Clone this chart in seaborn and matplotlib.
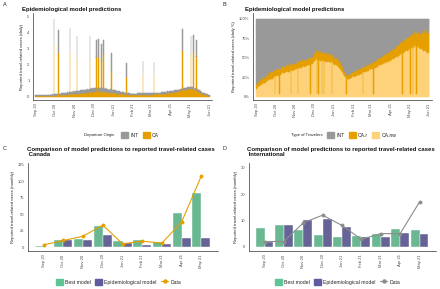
import numpy as np
import pandas as pd
import matplotlib
matplotlib.use("Agg")
import matplotlib.pyplot as plt
import matplotlib.dates as mdates
from matplotlib.patches import Patch
from matplotlib.lines import Line2D
import seaborn as sns

# ---- daily data, panel A (reported travel-related cases, daily) ----
days = pd.date_range("2020-09-01", "2021-05-31", freq="D")

ca_daily = (
    [0.03,0.03,0.04,0.03,0.04,0.04,0.03,0.04,0.05,0.04,0.04,0.05,0.04,0.05,0.05,0.04,0.05,0.06,0.05,0.05,
     0.06,0.05,0.06,0.06,0.07,0.06,0.07,0.07,0.06,0.07]  # Sep
    + [0.07,0.08,0.07,0.08,0.08,0.09,0.08,0.09,0.10,0.09,0.10,0.11,0.10,0.11,0.12,0.11,0.12,0.13,0.12,0.13,
       0.14,0.13,0.14,0.15,0.14,0.15,0.16,0.15,0.16,0.17,0.16]  # Oct
    + [0.17,0.18,0.17,0.19,0.18,0.19,0.20,0.19,0.21,0.20,0.21,0.22,0.21,0.23,0.22,0.23,0.24,0.23,0.25,0.24,
       0.25,0.26,0.25,0.27,0.26,0.27,0.28,0.27,0.29,0.28]  # Nov
    + [0.29,0.30,0.29,0.31,0.30,0.31,0.30,0.32,0.31,0.30,0.31,0.30,0.31,0.29,0.30,0.29,0.30,0.28,0.29,0.28,
       0.27,0.28,0.27,0.26,0.27,0.25,0.26,0.25,0.24,0.25,0.23]  # Dec
    + [0.23,0.22,0.23,0.21,0.22,0.20,0.21,0.19,0.20,0.18,0.19,0.17,0.18,0.16,0.17,0.15,0.16,0.14,0.15,0.13,
       0.14,0.12,0.13,0.12,0.11,0.12,0.11,0.10,0.11,0.10,0.10]  # Jan
    + [0.10,0.11,0.10,0.11,0.10,0.11,0.11,0.10,0.11,0.12,0.11,0.12,0.11,0.12,0.12,0.11,0.12,0.13,0.12,0.13,
       0.12,0.13,0.13,0.12,0.13,0.14,0.13,0.14]  # Feb
    + [0.14,0.13,0.14,0.15,0.14,0.15,0.14,0.15,0.16,0.15,0.16,0.15,0.16,0.17,0.16,0.17,0.18,0.17,0.18,0.19,
       0.18,0.20,0.19,0.21,0.20,0.22,0.21,0.23,0.22,0.24,0.23]  # Mar
    + [0.25,0.24,0.26,0.27,0.26,0.28,0.29,0.28,0.30,0.31,0.32,0.31,0.33,0.34,0.35,0.34,0.36,0.37,0.38,0.39,
       0.40,0.41,0.42,0.43,0.44,0.45,0.46,0.47,0.48,0.49]  # Apr
    + [0.49,0.48,0.48,0.47,0.46,0.45,0.44,0.42,0.41,0.39,0.37,0.35,0.33,0.31,0.29,0.27,0.25,0.23,0.21,0.19,
       0.17,0.16,0.14,0.13,0.12,0.11,0.10,0.09,0.08,0.07,0.06]  # May
)

int_daily = (
    [0.05,0.06,0.05,0.06,0.07,0.05,0.06,0.07,0.06,0.05,0.06,0.07,0.06,0.07,0.05,0.06,0.07,0.06,0.07,0.06,
     0.07,0.08,0.06,0.07,0.08,0.07,0.06,0.08,0.07,0.08]
    + [0.08,0.07,0.09,0.08,0.09,0.10,0.08,0.09,0.10,0.11,0.09,0.10,0.11,0.12,0.10,0.11,0.12,0.13,0.11,0.12,
       0.13,0.14,0.12,0.13,0.14,0.15,0.13,0.14,0.15,0.16,0.14]
    + [0.15,0.16,0.14,0.17,0.15,0.16,0.18,0.15,0.17,0.19,0.16,0.18,0.20,0.17,0.19,0.21,0.18,0.20,0.22,0.19,
       0.21,0.23,0.20,0.22,0.24,0.21,0.23,0.25,0.22,0.24]
    + [0.23,0.26,0.22,0.25,0.27,0.23,0.26,0.24,0.27,0.22,0.25,0.23,0.26,0.22,0.24,0.21,0.25,0.22,0.23,0.20,
       0.24,0.21,0.22,0.19,0.23,0.20,0.21,0.18,0.22,0.19,0.20]
    + [0.18,0.21,0.17,0.19,0.16,0.18,0.15,0.17,0.14,0.16,0.13,0.15,0.12,0.14,0.11,0.13,0.12,0.10,0.12,0.11,
       0.10,0.12,0.09,0.11,0.10,0.09,0.11,0.10,0.09,0.11,0.10]
    + [0.09,0.11,0.10,0.08,0.10,0.09,0.11,0.08,0.10,0.09,0.11,0.10,0.08,0.10,0.09,0.11,0.10,0.08,0.10,0.09,
       0.11,0.09,0.08,0.10,0.09,0.11,0.10,0.08]
    + [0.10,0.09,0.11,0.08,0.10,0.09,0.11,0.10,0.08,0.10,0.09,0.11,0.10,0.08,0.10,0.09,0.11,0.09,0.10,0.08,
       0.10,0.09,0.11,0.10,0.09,0.11,0.10,0.09,0.11,0.10,0.12]
    + [0.10,0.12,0.09,0.11,0.10,0.12,0.09,0.11,0.10,0.12,0.11,0.09,0.12,0.10,0.11,0.13,0.10,0.12,0.11,0.13,
       0.10,0.12,0.11,0.13,0.12,0.10,0.12,0.11,0.13,0.11]
    + [0.12,0.10,0.12,0.11,0.10,0.12,0.11,0.09,0.11,0.10,0.09,0.11,0.10,0.08,0.10,0.09,0.08,0.10,0.09,0.07,
       0.09,0.08,0.07,0.08,0.07,0.06,0.07,0.06,0.05,0.06,0.05]
)

# days with large clusters of reported cases
spike_dates = ["2020-09-30", "2020-10-07", "2020-10-25", "2020-11-05", "2020-11-25", "2020-12-05",
               "2020-12-08", "2020-12-13", "2020-12-16", "2020-12-29", "2021-01-21", "2021-02-16",
               "2021-03-05", "2021-04-19", "2021-05-02", "2021-05-06", "2021-05-11"]
spike_ca = [3.2, 2.7, 2.75, 2.35, 2.3, 2.5, 2.4, 2.25, 2.65, 1.6, 1.25, 1.35, 1.3, 2.85, 2.6, 2.75, 2.5]
spike_int = [1.65, 1.45, 1.55, 1.4, 1.45, 1.05, 1.2, 1.0, 0.9, 1.1, 0.85, 0.9, 0.85, 1.35, 1.15, 1.1, 1.05]

# ---- daily shares, panel B (%) ----
ca_nw_pct = (
    [10,12,11,13,14,13,15,16,15,17,16,18,17,19,18,20,19,21,20,22,21,22,23,22,24,23,25,24,26,25]
    + [26,27,26,28,27,28,29,28,29,30,29,31,30,31,30,32,31,32,31,33,32,33,32,34,33,34,33,35,34,35,34]
    + [35,36,35,37,36,37,36,38,37,38,37,39,38,39,38,40,39,40,39,41,40,41,40,42,41,42,43,42,44,45]
    + [46,48,47,49,48,47,49,48,47,48,46,47,48,46,47,45,46,47,45,46,44,45,46,44,45,43,44,45,43,44,42]
    + [42,41,42,40,41,39,40,38,39,37,36,35,33,32,30,29,28,26,25,24,23,22,23,22,24,23,24,25,24,26,25]
    + [26,25,27,26,28,27,28,27,29,28,30,29,30,29,31,30,32,31,32,31,33,32,33,34,33,35,34,35]
    + [35,36,35,37,36,37,38,37,38,39,38,40,39,40,41,40,42,41,42,43,42,44,43,44,45,44,46,45,46,47,46]
    + [47,48,47,49,48,50,49,51,50,52,51,53,52,54,53,55,54,56,55,57,56,58,57,59,58,60,59,61,60,62]
    + [61,63,62,64,63,65,64,66,63,65,64,66,65,63,64,62,63,61,62,60,61,60,59,60,58,59,57,58,56,57,55]
)
ca_r_pct = (
    [6,7,6,7,7,6,8,7,6,8,7,8,7,8,8,7,9,8,8,9,8,9,8,9,9,8,9,9,8,9]
    + [8,9,8,9,8,9,9,8,9,8,9,8,9,9,8,9,8,9,9,8,9,9,8,9,8,9,9,8,9,9,8]
    + [8,9,8,9,8,9,8,9,9,8,9,9,8,9,9,8,9,9,8,9,9,8,9,8,9,9,8,9,9,10]
    + [10,11,10,12,11,10,12,11,10,11,12,10,11,10,11,12,10,11,10,11,10,11,10,11,10,11,10,11,10,11,10]
    + [10,9,10,9,10,9,10,9,9,8,9,8,8,7,8,7,7,6,6,6,5,6,5,6,5,6,5,6,6,5,6]
    + [6,7,6,7,6,7,7,6,7,7,6,7,7,8,7,7,8,7,8,7,8,8,7,8,8,7,8,8]
    + [8,9,8,9,8,9,9,8,9,9,10,9,10,9,10,10,9,10,10,11,10,11,10,11,11,10,11,11,12,11,12]
    + [12,11,12,13,12,13,12,13,14,13,14,13,14,15,14,15,14,15,16,15,14,15,16,15,16,15,16,15,16,17]
    + [16,15,17,16,18,17,16,18,17,19,18,17,19,18,20,19,21,20,22,21,23,22,24,25,23,26,28,24,27,25,28]
)
dip_nw_pct = 3  # CA.nw share on the cluster days

# ---- monthly comparison, panels C and D ----
months = ["Sep 20", "Oct 20", "Nov 20", "Dec 20", "Jan 21", "Feb 21", "Mar 21", "Apr 21", "May 21"]
ca_best = [1, 11, 12, 31.5, 8.5, 10, 7.5, 51.5, 83]
ca_epi = [0.5, 11, 11.5, 18, 6, 3, 5, 14.5, 14.5]
ca_data = [3.5, 10, 16.5, 33.5, 5, 9, 6, 38, 108]
int_best = [7.2, 8.1, 6.3, 4.6, 3.8, 4.0, 4.7, 6.6, 6.3]
int_epi = [1.9, 8.1, 10.1, 10.6, 7.6, 3.9, 3.8, 5.3, 4.9]
int_data = [2, 2, 9.1, 12, 8.1, 2.8, 5, 5, 17]

C_INT = "#999999"
C_CA = "#E69F00"
C_NW = "#FDD27A"
C_BEST = "#5CC593"
C_EPI = "#5F5B9E"
TXT = "#4d4d4d"

sns.set_theme(style="white")
plt.rcParams["font.family"] = ["Liberation Sans", "DejaVu Sans"]

# build frames
dfA = pd.DataFrame({"date": days, "CA": ca_daily, "INT": int_daily})
dfB = pd.DataFrame({"date": days, "CA.nw": ca_nw_pct, "CA.r": ca_r_pct})
for d, c, i in zip(spike_dates, spike_ca, spike_int):
    m = dfA["date"] == pd.Timestamp(d)
    dfA.loc[m, "CA"] = c
    dfA.loc[m, "INT"] = i
    mb = dfB["date"] == pd.Timestamp(d)
    tot = dfB.loc[mb, "CA.nw"] + dfB.loc[mb, "CA.r"]
    dfB.loc[mb, "CA.nw"] = dip_nw_pct
    dfB.loc[mb, "CA.r"] = tot - dip_nw_pct
dfB["INT"] = 100 - dfB["CA.nw"] - dfB["CA.r"]

W, H = 440, 289
fig = plt.figure(figsize=(W / 100, H / 100), dpi=100)


def box(l, t, r, b):
    return [l / W, 1 - b / H, (r - l) / W, (b - t) / H]


axA = fig.add_axes(box(33, 13, 212, 100))
axB = fig.add_axes(box(253, 13, 432, 100))
axC = fig.add_axes(box(28, 163, 218, 251))
axD = fig.add_axes(box(249, 163, 436, 251))

TICK = 3.0
LAB = 3.0
TITLE = 4.3
LEGTXT = 3.7


def style(ax):
    for s in ["top", "right"]:
        ax.spines[s].set_visible(False)
    for s in ["left", "bottom"]:
        ax.spines[s].set_color("#333333")
        ax.spines[s].set_linewidth(0.5)
    ax.tick_params(axis="both", labelsize=TICK, colors=TXT, length=1.5, width=0.4, pad=1)
    ax.tick_params(axis="x", labelrotation=90)
    ax.set_xlabel("")


def stack(ax, x, layers):
    bottom = np.zeros(len(x))
    for vals, col in layers:
        vals = np.asarray(vals, dtype=float)
        ax.bar(x, vals, bottom=bottom, width=1.0, color=col, edgecolor=col, linewidth=0.35)
        bottom = bottom + vals


def hlegend(handles, x, y, title=None, title_w=0):
    if title:
        fig.text(x / W, 1 - y / H, title, fontsize=3.0, color="#222222", va="center")
    fig.legend(handles=handles, loc="center left", bbox_to_anchor=((x + title_w) / W, 1 - y / H),
               bbox_transform=fig.transFigure, ncol=len(handles), frameon=False, fontsize=LEGTXT,
               handlelength=1.4, handleheight=1.4, columnspacing=0.8, handletextpad=0.4,
               borderpad=0, borderaxespad=0)


# ---- Panel A ----
stack(axA, dfA["date"], [(dfA["CA"], C_CA), (dfA["INT"], C_INT)])
axA.set_ylim(-0.2, 5.2)
axA.set_yticks([0, 1, 2, 3, 4, 5])
axA.set_xlim(pd.Timestamp("2020-08-28"), pd.Timestamp("2021-06-04"))
month_ticks = pd.date_range("2020-09-01", "2021-06-01", freq="MS")
for ax in (axA, axB):
    ax.set_xticks(month_ticks)
    ax.xaxis.set_major_formatter(mdates.DateFormatter("%b %y"))
style(axA)
axA.set_ylabel("Reported travel-related cases (daily)", fontsize=LAB, color="#222222", labelpad=2)
hlegend([Patch(color=C_INT, label="INT"), Patch(color=C_CA, label="CA")], 84, 135,
        "Departure Origin", 37)

# ---- Panel B ----
stack(axB, dfB["date"], [(dfB["CA.nw"], C_NW), (dfB["CA.r"], C_CA), (dfB["INT"], C_INT)])
axB.set_ylim(-4.5, 107.5)
axB.set_yticks([0, 25, 50, 75, 100])
axB.set_yticklabels(["0%", "25%", "50%", "75%", "100%"])
axB.set_xlim(pd.Timestamp("2020-08-26"), pd.Timestamp("2021-06-05"))
style(axB)
axB.set_ylabel("Reported travel-related cases (daily %)", fontsize=LAB, color="#222222", labelpad=2)
hlegend([Patch(color=C_INT, label="INT"), Patch(color=C_CA, label="CA.r"),
         Patch(color=C_NW, label="CA.nw")], 291, 135, "Type of Travelers", 36)


# ---- Panels C and D ----
def compare(ax, best, epi, data, dcolor, ylim, yticks, legx):
    df = pd.DataFrame({"month": months * 2, "cases": best + epi,
                       "model": ["Best model"] * 9 + ["Epidemiological model"] * 9})
    sns.barplot(data=df, x="month", y="cases", hue="model", palette=[C_BEST, C_EPI],
                width=0.92, edgecolor="white", linewidth=0.3, ax=ax, legend=False)
    dd = pd.DataFrame({"month": months, "cases": data})
    sns.pointplot(data=dd, x="month", y="cases", color=dcolor, ax=ax,
                  markersize=2.2, linewidth=0.8)
    ax.set_ylim(*ylim)
    ax.set_yticks(yticks)
    ax.set_xlim(-0.8, 8.85)
    style(ax)
    ax.set_ylabel("Reported travel-related cases (monthly)", fontsize=LAB, color="#222222", labelpad=2)
    hlegend([Patch(color=C_BEST, label="Best model"),
             Patch(color=C_EPI, label="Epidemiological model"),
             Line2D([0], [0], color=dcolor, marker="o", markersize=2.2, lw=0.8, label="Data")],
            legx, 282)


compare(axC, ca_best, ca_epi, ca_data, C_CA, (-6, 128), [0, 25, 50, 75, 100, 125], 56)
compare(axD, int_best, int_epi, int_data, "#8c8c8c", (-1.6, 31.8), [0, 10, 20, 30], 275)

# ---- titles and panel letters ----
for x, y, s in [(3, 5, "A"), (222, 5, "B"), (3, 148, "C"), (222, 148, "D")]:
    fig.text(x / W, 1 - y / H, s, fontsize=4, color="#222222", va="center")
fig.text(22 / W, 1 - 9 / H, "Epidemiological model predictions", fontsize=TITLE,
         fontweight="bold", color="#111111", va="center")
fig.text(245 / W, 1 - 9 / H, "Epidemiological model predictions", fontsize=TITLE,
         fontweight="bold", color="#111111", va="center")
fig.text(27 / W, 1 - 152 / H, "Comparison of model predictions to reported travel-related cases\n Canada",
         fontsize=TITLE, fontweight="bold", color="#111111", va="center", linespacing=1.1)
fig.text(247 / W, 1 - 152 / H,
         "Comparison of model predictions to reported travel-related cases\n International",
         fontsize=TITLE, fontweight="bold", color="#111111", va="center", linespacing=1.1)

fig.savefig("out.png", dpi=100)
